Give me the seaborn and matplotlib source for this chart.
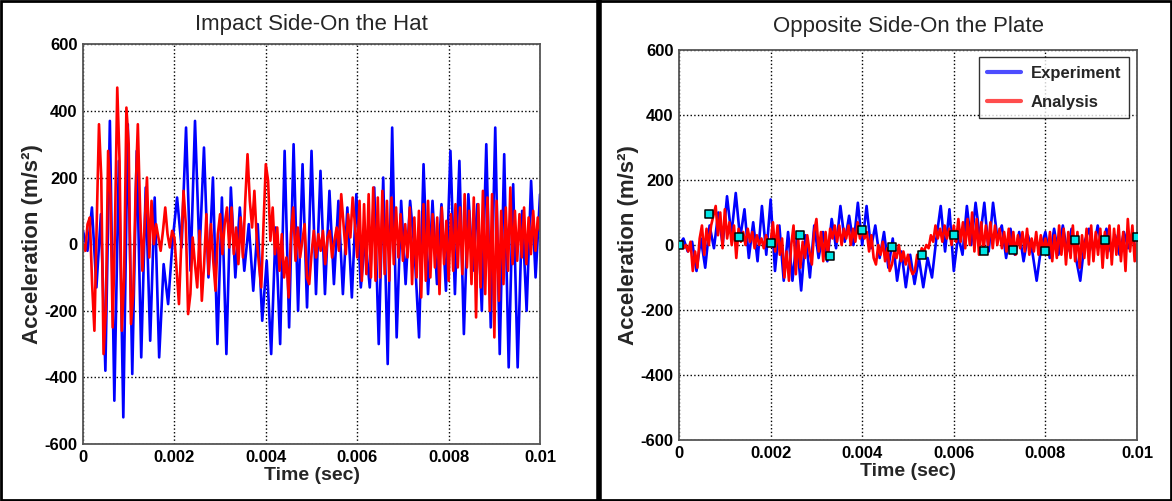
import numpy as np
import pandas as pd
import matplotlib
matplotlib.use("Agg")
import matplotlib.pyplot as plt
import seaborn as sns
from matplotlib.lines import Line2D
from matplotlib.patches import Rectangle

# values (m/s^2), equally spaced in time over 0..0.01 s
# left: impact side, on the hat
hat_exp = [40, -20, 110, -130, 90, -380, 370, -470, 250, -520,
           360, -390, 280, -340, 170, -290, 140, -340, -60, -180,
           10, 140, -10, 350, -80, 370, -30, 290, -100, 200,
           -300, 140, -330, 170, -100, 110, -80, 60, -140, 60,
           -230, -50, -330, 50, -300, 280, -250, 300, -200, 240,
           -190, 280, -150, 220, -150, 160, -120, 130, -150, 110,
           -160, 150, -130, 20, -130, 170, -300, 200, -360, 350,
           -280, 130, -120, 130, -20, -280, 240, -150, 130, -120,
           120, -140, 280, -150, 250, -270, 150, -80, 120, -200,
           300, -250, 350, -330, 270, -370, 180, -370, 100, -200,
           190, -100, 150]

hat_ana = [0, -20, 60, 80, -120, -260, 60, 360, 200, -330,
           -200, 280, 150, -250, 50, 470, 250, -260, -100, 410,
           300, -240, -150, 150, 360, 100, -80, 60, 200, -40,
           130, 0, 60, 20, -20, 40, 110, 30, -10, 40,
           20, -80, -180, 0, 160, 60, -210, -150, 20, -60,
           -130, 40, -170, -60, 90, -90, 60, -50, -140, 30,
           90, -30, 60, 110, -10, 110, -30, 50, -60, 80,
           -40, 130, 270, 130, 50, 160, 20, -60, -130, 60,
           240, 190, 10, 110, -30, 50, -80, 30, -100, -40,
           -160, 30, 110, -50, 50, -40, 10, 60, -100, -120,
           -30, 40, -40, 30, -20, 40, -60, 20, 40, -40,
           10, 50, -20, 150, 60, -30, 90, 20, 140, 60,
           -40, 130, -110, 120, -90, 150, -100, 170, -110, 140,
           -100, 160, -90, 130, -110, 140, -60, 110, -40, 90,
           -50, 60, -40, 110, -120, 80, -100, 100, -160, 120,
           -110, 130, -100, 90, -70, 80, -150, 110, -60, 70,
           -110, 90, -80, 120, -70, 110, -90, 150, -70, 100,
           -120, 140, -220, 120, -130, 160, -150, 140, -200, 150,
           -280, 130, -170, 100, -120, 110, -80, 170, -60, 100,
           -50, 90, -40, 110, -60, 80, -30, 100, -20, 80,
           40]

# right: opposite side, on the plate
plate_exp = [0, 20, -20, 10, -80, 20, -70, 60, -10, 100,
             0, 150, 30, 160, 20, 110, -40, 70, -50, 120,
             -30, 140, -80, 60, -110, 40, -110, 20, -140, 30,
             -100, 60, -40, 40, -50, 80, -10, 120, 10, 90,
             0, 130, 0, 120, -10, 60, -40, 40, -70, 20,
             -110, -20, -130, -30, -120, -40, -130, -40, -100, 20,
             120, -20, 110, -80, 30, -30, 120, 0, 130, 20,
             130, -20, 130, 20, 60, -40, 50, -30, 40, -50,
             30, -20, -110, -10, 40, -40, 50, -30, 60, -20,
             50, -40, -110, 10, 50, -20, 60, -10, 50, -20,
             30, -30, 40, -10, 30, -50]

plate_ana = [0, 10, -10, 0, -20, 10, -80, -20, -70, 20,
             60, -30, 50, 0, 60, 90, 120, 30, 100, -10,
             110, 20, 70, 0, 60, -40, 50, 10, 40, 0,
             50, 10, 40, -10, 30, 0, 20, -10, 30, 0,
             10, 70, -20, 60, -30, 20, -100, -20, -110, 0,
             60, -90, 20, -70, 10, -40, 30, -20, -60, 40,
             80, -20, 40, -50, 40, -30, 50, 20, 60, 10,
             60, 0, 50, 20, 60, 0, 50, 10, 70, 20,
             50, 20, 40, -20, 30, -40, -60, 0, -30, 10,
             -50, -10, -80, -60, -20, -40, 0, -50, -20, -60,
             -30, -70, -90, -80, -30, -40, -10, -20, 0, -10,
             30, 10, 60, 20, 50, 10, 60, 20, 50, 0,
             60, 10, 80, 10, 70, -10, 80, 0, 100, -20,
             80, -30, 70, -20, 60, 0, 70, -10, 60, 0,
             50, -10, 40, -20, 50, -20, 40, -30, 30, -10,
             40, -20, 50, -30, 20, -20, 40, -30, 30, -20,
             20, -30, 40, -50, 30, -40, 60, -30, 50, -60,
             40, -40, 60, -50, 40, -70, 30, -40, 50, -60,
             60, -50, 40, -30, 50, -70, 40, -40, 60, -60,
             50, -30, 60, -50, 40, -80, 80, -20, 60, -50,
             20]

# cyan square markers on the plate plot
mark_t = [0, 0.00065, 0.0013, 0.002, 0.00265, 0.0033, 0.004, 0.00465,
          0.0053, 0.006, 0.00665, 0.0073, 0.008, 0.00865, 0.0093, 0.01]
mark_v = [0, 95, 25, 5, 30, -35, 45, -5, -30, 30, -20, -15, -20, 15, 15, 25]

xticks = [0, 0.002, 0.004, 0.006, 0.008, 0.01]
xtick_labels = ["0", "0.002", "0.004", "0.006", "0.008", "0.01"]
yticks = [-600, -400, -200, 0, 200, 400, 600]
ytick_labels = ["-600", "-400", "-200", "0", "200", "400", "600"]

sns.set_style("white")
plt.rcParams['font.family'] = ['Liberation Sans', 'DejaVu Sans']
plt.rcParams['axes.unicode_minus'] = False

BLUE = "#0000ff"
RED = "#ff0000"


def to_df(vals):
    return pd.DataFrame({"t": np.linspace(0, 0.01, len(vals)), "a": vals})


def draw(ax, exp, ana, title, pad):
    sns.lineplot(data=to_df(exp), x="t", y="a", ax=ax, color=BLUE, lw=1.9,
                 estimator=None, legend=False)
    sns.lineplot(data=to_df(ana), x="t", y="a", ax=ax, color=RED, lw=1.9,
                 estimator=None, legend=False)
    ax.set_xlim(0, 0.01)
    ax.set_ylim(-600, 600)
    ax.set_xticks(xticks)
    ax.set_xticklabels(xtick_labels, fontsize=12, fontweight="bold")
    ax.set_yticks(yticks)
    ax.set_yticklabels(ytick_labels, fontsize=12, fontweight="bold")
    ax.tick_params(direction="in", length=3, pad=4, colors="k")
    ax.grid(True, linestyle=":", color="k", lw=1.0)
    for s in ax.spines.values():
        s.set_color("#555555")
        s.set_linewidth(1.3)
    ax.set_title(title, fontsize=16, pad=pad)
    ax.set_xlabel("Time (sec)", fontsize=14, fontweight="bold", labelpad=2)
    ax.set_ylabel("Acceleration (m/s²)", fontsize=16, fontweight="bold", labelpad=1)


fig = plt.figure(figsize=(11.72, 5.01), dpi=100)
ax1 = fig.add_axes([0.0708, 0.1138, 0.3900, 0.7978])
ax2 = fig.add_axes([0.5794, 0.1218, 0.3907, 0.7784])

draw(ax1, hat_exp, hat_ana, "Impact Side-On the Hat", 10)
draw(ax2, plate_exp, plate_ana, "Opposite Side-On the Plate", 13)

sns.scatterplot(x=mark_t, y=mark_v, ax=ax2, marker="s", s=30, color="#00e5e5",
                edgecolor="k", linewidth=1.1, zorder=5, legend=False)

handles = [Line2D([], [], color="#4d4dff", lw=3), Line2D([], [], color="#ff4d4d", lw=3)]
leg = ax2.legend(handles, ["Experiment", "Analysis"], loc="upper right",
                 prop={"weight": "bold", "size": 12}, frameon=True, fancybox=False,
                 edgecolor="k", borderaxespad=0.45, handlelength=2.0,
                 labelspacing=0.85, borderpad=0.5, handletextpad=0.6)
leg.get_frame().set_linewidth(1.0)

# panel frames
fig.add_artist(Rectangle((0.001, 0.002), 0.998, 0.996, transform=fig.transFigure,
                         fill=False, lw=2, ec="k"))
fig.add_artist(Line2D([0.511, 0.511], [0, 1], transform=fig.transFigure, lw=4, color="k"))

fig.savefig("out.png", dpi=100)
